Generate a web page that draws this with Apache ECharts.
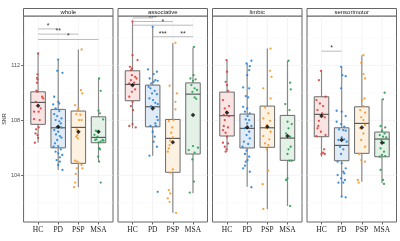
<!DOCTYPE html>
<html><head><meta charset="utf-8">
<script src="https://cdn.jsdelivr.net/npm/echarts@6/dist/echarts.min.js"></script>
<style>html,body{margin:0;padding:0;background:#fff}#c{width:400px;height:241px}</style>
</head><body><div id="c"></div>
<script>
const groups = ['HC', 'PD', 'PSP', 'MSA'];
const panels = ['whole', 'associative', 'limbic', 'sensorimotor'];
const yTicks = [104, 108, 112];
const gridMajor = [104, 108, 112];
const gridMinor = [102, 106, 110, 114];

// box stats: [lower whisker, Q1, median, Q3, upper whisker] per group
const whole_box = [[106.37,107.71,109.31,110.08,112.87],[104.39,106.0,107.46,108.8,112.44],[103.13,104.87,107.49,108.68,113.16],[104.99,106.37,106.76,108.26,111.05]];
const whole_mean = [109.06,107.53,107.17,107.17];
const assoc_box = [[107.42,109.43,110.62,111.61,115.2],[105.43,107.53,108.99,110.57,114.81],[101.28,104.22,106.69,108.07,113.64],[102.69,105.55,109.91,110.73,113.31]];
const assoc_mean = [110.55,108.87,106.4,108.39];
const limbic_box = [[105.72,106.86,108.34,110.06,112.39],[103.17,105.99,107.42,108.46,112.15],[101.55,106.04,107.46,109.04,113.24],[101.77,105.09,106.71,108.36,112.33]];
const limbic_mean = [108.55,107.5,107.53,106.86];
const sensor_box = [[105.35,106.81,108.44,109.72,111.61],[102.44,105.06,106.18,107.46,111.9],[103.53,105.6,107.78,108.99,112.75],[103.42,105.35,106.64,107.15,109.55]];
const sensor_mean = [108.31,106.57,107.49,106.37];

// significance brackets: [group a, group b, label, height]
const whole_sig = [[1,2,'*',114.66],[1,3,'**',114.28],[1,4,'*',113.89]];
const assoc_sig = [[1,2,'*',115.46],[1,3,'***',115.2],[1,4,'*',114.93],[2,3,'***',114.09],[3,4,'**',114.09]];
const limbic_sig = [];
const sensor_sig = [[1,2,'*',113.04]];

// individual points (SNR) and their horizontal jitter (category units)
const whole_HC = [112.87,111.35,111.10,110.98,110.74,110.16,110.08,109.72,109.60,109.35,108.87,108.63,108.63,108.09,108.02,107.49,107.35,107.05,106.93,106.73,106.37];
const whole_HC_jit = [0,-0.03,-0.05,-0.03,-0.05,-0.08,-0.03,0.2,0.25,-0.11,0.13,-0.2,0.03,-0.2,0.08,0.03,-0.1,-0.13,-0.03,0,-0.16];
const whole_PD = [112.43,111.61,111.46,109.72,109.35,109.23,109.16,108.87,108.68,108.46,108.31,108.14,108.02,107.93,107.78,107.49,107.49,107.29,107.17,106.98,106.86,106.74,106.57,106.33,106.13,106.08,105.89,105.72,105.60,105.48,105.31,105.11,104.99,104.75,104.39];
const whole_PD_jit = [0,-0.05,0.21,-0.2,0,0.05,-0.25,-0.13,0.05,-0.2,-0.05,0.16,-0.13,0.05,0.13,-0.08,0.16,-0.2,0,-0.11,0.08,0.16,-0.05,-0.16,0,-0.23,0.13,-0.13,0,0.2,0.08,-0.08,0.08,0,0.21];
const whole_PSP = [113.16,110.20,109.96,109.11,108.87,108.75,108.46,108.41,108.02,108.02,107.34,107.10,106.93,106.81,106.69,105.06,104.99,104.87,104.75,104.51,104.51,104.10,103.47,103.13];
const whole_PSP_jit = [0.16,0.13,0.2,-0.16,0,-0.03,-0.1,0.1,0.03,0.16,-0.08,0,-0.05,-0.1,-0.03,-0.16,-0.05,0.03,0.16,0.2,-0.08,-0.13,-0.16,-0.21];
const whole_MSA = [111.05,110.15,108.70,108.51,108.07,107.25,106.95,106.81,106.62,106.57,106.57,106.52,106.45,106.40,105.97,105.89,105.36,104.99,103.47];
const whole_MSA_jit = [0.03,0.11,0,0.07,0.23,-0.13,-0.2,-0.05,-0.1,-0.16,0.2,0.25,0.11,0,0.03,0.08,-0.02,0.03,0.11];

const assoc_HC = [115.2,112.75,112.39,111.90,111.78,111.66,111.29,111.17,111.05,110.93,110.74,110.69,110.25,110.08,109.72,109.35,109.04,108.75,107.73,107.59,107.49];
const assoc_HC_jit = [0,0,0.25,-0.13,-0.03,-0.08,-0.03,0.13,0.2,-0.08,0.08,-0.16,0.13,-0.03,-0.16,0,-0.08,0.03,0,-0.16,0.16];
const assoc_PD = [114.81,111.71,111.54,111.37,111.05,110.93,110.88,110.81,110.69,110.45,110.33,110.15,109.96,109.91,109.60,109.48,109.28,109.19,109.04,108.94,108.26,108.02,107.78,107.59,107.59,107.17,106.81,106.45,106.08,105.43,102.80];
const assoc_PD_jit = [0,-0.23,0.21,0.05,-0.15,0.13,0.25,0.05,-0.07,-0.2,-0.11,0.1,-0.03,0.21,-0.16,0.02,0.13,0.25,-0.07,0.05,0.21,0.25,0.13,-0.11,0.16,0,0.1,0.05,0.21,-0.16,0.25];
const assoc_PSP = [113.65,110.52,109.96,109.35,108.80,108.02,107.95,107.49,107.10,106.76,106.52,106.20,105.96,105.72,104.43,104.18,102.92,102.68,102.32,102.07,101.27];
const assoc_PSP_jit = [0.13,-0.16,0.2,0.13,0.13,0.03,-0.2,-0.03,-0.08,0,-0.13,-0.16,-0.2,-0.25,0,-0.13,-0.2,-0.13,-0.25,-0.16,0.16];
const assoc_MSA = [113.35,111.29,111.05,110.98,110.88,110.57,110.33,110.21,110.08,109.67,109.57,106.13,106.01,105.84,105.65,105.16,103.54,102.74];
const assoc_MSA_jit = [0.05,0.03,-0.13,0.13,0,-0.08,0.08,0.2,-0.03,0.08,0.16,0,0.25,-0.21,0.08,-0.03,0.05,-0.16];

const limbic_HC = [112.39,111.54,110.81,110.57,110.15,109.48,109.04,108.87,108.63,108.39,108.31,108.02,107.59,107.49,107.29,107.10,106.81,106.37,106.32,106.08,105.89,105.72];
const limbic_HC_jit = [-0.03,0,-0.07,0,0.05,-0.2,0.1,-0.11,-0.03,-0.16,0.1,-0.11,-0.16,0.05,-0.2,-0.07,0,-0.2,0.05,-0.11,-0.03,-0.07];
const limbic_PD = [112.34,112.14,111.95,111.66,111.29,110.40,110.33,109.77,109.67,108.99,108.87,108.63,108.51,108.31,108.07,108.02,107.78,107.59,107.42,107.17,106.93,106.69,106.45,106.28,106.08,105.79,105.55,105.36,105.11,104.99,104.70,104.51,104.26,103.13];
const limbic_PD_jit = [0.21,-0.03,0.13,0.1,0,-0.2,0.1,-0.07,0.05,-0.2,0,-0.11,0.13,0.02,-0.07,0.1,0,0.21,-0.11,0.1,-0.03,0.13,-0.16,0.05,-0.23,-0.03,-0.11,0.1,0.02,-0.07,-0.11,-0.2,0.13,0.21];
const limbic_PSP = [113.23,111.61,111.17,110.33,109.60,108.94,108.51,108.14,107.97,107.66,107.42,107.17,106.86,106.62,106.32,106.20,105.89,104.34,103.35,101.55];
const limbic_PSP_jit = [0.16,0.13,0.21,-0.2,0.16,-0.11,0.05,-0.2,0.13,-0.03,-0.07,0.16,-0.2,0.1,-0.11,0.05,-0.03,0.05,-0.23,-0.2];
const limbic_MSA = [112.34,110.74,110.25,109.19,108.75,107.90,107.73,107.42,107.05,106.81,106.08,105.89,105.55,105.06,105.06,103.78,103.66,101.77];
const limbic_MSA_jit = [0.05,0.13,0.16,-0.11,0.1,0,0.21,0.05,-0.07,0.13,0.16,0.05,0,0.1,0.21,0,-0.07,0.13];

const sensor_HC = [111.61,110.93,109.72,109.48,109.23,109.04,108.75,108.51,108.22,107.97,107.59,107.42,107.17,106.93,106.86,105.89,105.65,105.55,105.55];
const sensor_HC_jit = [-0.03,-0.13,0.2,-0.25,-0.08,0.08,-0.2,0.03,0.16,-0.13,-0.16,-0.2,-0.03,0.2,-0.25,0.13,0.08,0.16,0];
const sensor_PD = [111.90,111.29,111.22,110.33,108.70,108.63,108.31,107.90,107.73,107.54,107.34,107.29,107.25,106.76,106.62,106.57,106.45,106.08,105.89,105.55,104.99,104.87,104.51,104.26,104.14,104.02,103.78,103.66,103.46,103.46,102.45,102.40];
const sensor_PD_jit = [-0.03,0.03,0.2,-0.03,-0.25,0,0.2,-0.25,-0.03,0.13,-0.13,0.08,0.2,0,0.13,-0.16,0.25,-0.08,0.08,-0.03,-0.2,0,0.2,0.08,0.13,-0.2,-0.03,0.16,-0.16,0.08,0,0.2];
const sensor_PSP = [112.75,112.19,111.37,111.05,109.60,109.48,109.04,108.75,108.56,108.22,108.02,107.66,107.42,107.05,106.57,106.08,105.55,105.11,104.99,103.66,103.46];
const sensor_PSP_jit = [0.08,-0.03,0.08,0.16,0.13,0,0.08,-0.08,0.16,-0.03,0.08,0.16,-0.08,0.08,-0.03,0.16,-0.13,-0.03,0.16,-0.2,-0.16];
const sensor_MSA = [110.01,109.53,107.59,107.49,107.25,107.05,106.93,106.81,106.76,106.57,106.37,105.96,105.72,105.48,105.40,105.36,104.39,103.66,103.37];
const sensor_MSA_jit = [0.13,0.05,-0.07,0.16,0,0.13,-0.11,0.05,0.21,-0.03,0.1,-0.07,0.1,0,0.16,-0.11,-0.07,0.05,0.1];

const panelBoxes = [whole_box, assoc_box, limbic_box, sensor_box];
const panelMeans = [whole_mean, assoc_mean, limbic_mean, sensor_mean];
const panelSigs = [whole_sig, assoc_sig, limbic_sig, sensor_sig];
const panelPoints = [
  [[whole_HC, whole_HC_jit],[whole_PD, whole_PD_jit],[whole_PSP, whole_PSP_jit],[whole_MSA, whole_MSA_jit]],
  [[assoc_HC, assoc_HC_jit],[assoc_PD, assoc_PD_jit],[assoc_PSP, assoc_PSP_jit],[assoc_MSA, assoc_MSA_jit]],
  [[limbic_HC, limbic_HC_jit],[limbic_PD, limbic_PD_jit],[limbic_PSP, limbic_PSP_jit],[limbic_MSA, limbic_MSA_jit]],
  [[sensor_HC, sensor_HC_jit],[sensor_PD, sensor_PD_jit],[sensor_PSP, sensor_PSP_jit],[sensor_MSA, sensor_MSA_jit]]
];

const pointColors = ['#d8413a', '#2a84d8', '#f39a2e', '#2f9d57'];
const fillColors = ['#fae4e3', '#e0ebf6', '#fdf1e2', '#e3f1e7'];

const chart = echarts.init(document.getElementById('c'), null, {renderer: 'canvas'});
const L0 = 23.5, STEP = 94.5, W = 89.5, TOP = 16, H = 206;
const grids = [], xAxes = [], yAxes = [], series = [], graphics = [];

panels.forEach((name, i) => {
  const left = L0 + i * STEP;
  grids.push({left: left, top: TOP, width: W, height: H, show: true, borderColor: '#666', borderWidth: 1, backgroundColor: '#fff'});
  xAxes.push({
    type: 'value', gridIndex: i, min: 0.28, max: 4.72,
    axisLine: {show: false}, splitLine: {show: false},
    axisTick: {show: true, customValues: [1,2,3,4], length: 2.5, lineStyle: {color: '#444', width: 0.8}},
    axisLabel: {customValues: [1,2,3,4], formatter: v => groups[Math.round(v) - 1], fontFamily: 'Liberation Serif', fontSize: 7.5, color: '#222', margin: 4.5}
  });
  yAxes.push({
    type: 'value', gridIndex: i, min: 100.6, max: 115.6,
    axisLine: {show: false}, splitLine: {show: false},
    axisTick: {show: i === 0, customValues: yTicks, length: 2.5, lineStyle: {color: '#444', width: 0.8}},
    axisLabel: {show: i === 0, customValues: yTicks, fontSize: 5.5, color: '#4d4d4d', margin: 3.5, fontFamily: 'Liberation Sans'},
    name: i === 0 ? 'SNR' : '', nameLocation: 'middle', nameRotate: 90, nameGap: 14,
    nameTextStyle: {fontSize: 5.5, color: '#333', fontFamily: 'Liberation Sans'}
  });
  // strip
  graphics.push({type: 'rect', shape: {x: left, y: 8.5, width: W, height: 7.5}, style: {fill: '#fff', stroke: '#666', lineWidth: 1}, z: 10});
  graphics.push({type: 'text', x: left + W / 2, y: 12.5, style: {text: name, fontSize: 6, fill: '#1a1a1a', textAlign: 'center', textVerticalAlign: 'middle', fontFamily: 'Liberation Sans'}, z: 11});

  // background grid lines
  const hData = gridMajor.map(v => [1, v, 0]).concat(gridMinor.map(v => [1, v, 1]));
  series.push({
    type: 'custom', xAxisIndex: i, yAxisIndex: i, silent: true, z: 0,
    data: hData,
    renderItem: (params, api) => {
      const cs = params.coordSys;
      const p = api.coord([1, api.value(1)]);
      const minor = api.value(2) === 1;
      return {type: 'line', shape: {x1: cs.x, y1: p[1], x2: cs.x + cs.width, y2: p[1]}, style: {stroke: minor ? '#f6f6f6' : '#efefef', lineWidth: minor ? 0.5 : 0.7}};
    }
  });
  series.push({
    type: 'custom', xAxisIndex: i, yAxisIndex: i, silent: true, z: 0,
    data: [1,2,3,4].map(g => [g, 108]),
    renderItem: (params, api) => {
      const cs = params.coordSys;
      const p = api.coord([api.value(0), 108]);
      return {type: 'line', shape: {x1: p[0], y1: cs.y, x2: p[0], y2: cs.y + cs.height}, style: {stroke: '#efefef', lineWidth: 0.7}};
    }
  });

  // boxes
  series.push({
    type: 'custom', xAxisIndex: i, yAxisIndex: i, silent: true, z: 2,
    data: panelBoxes[i].map((b, g) => [g + 1].concat(b)),
    encode: {x: 0, y: [1,2,3,4,5]},
    renderItem: (params, api) => {
      const x = api.value(0);
      const g = Math.round(x) - 1;
      const lo = api.coord([x, api.value(1)]);
      const q1 = api.coord([x, api.value(2)]);
      const md = api.coord([x, api.value(3)]);
      const q3 = api.coord([x, api.value(4)]);
      const hi = api.coord([x, api.value(5)]);
      const hw = api.size([0.72, 0])[0] / 2;
      return {type: 'group', children: [
        {type: 'line', shape: {x1: lo[0], y1: lo[1], x2: q1[0], y2: q1[1]}, style: {stroke: '#8a8a8a', lineWidth: 1.2}},
        {type: 'line', shape: {x1: q3[0], y1: q3[1], x2: hi[0], y2: hi[1]}, style: {stroke: '#8a8a8a', lineWidth: 1.2}},
        {type: 'rect', shape: {x: q3[0] - hw, y: q3[1], width: hw * 2, height: q1[1] - q3[1]}, style: {fill: fillColors[g], stroke: '#6a6a6a', lineWidth: 1}},
        {type: 'line', shape: {x1: md[0] - hw, y1: md[1], x2: md[0] + hw, y2: md[1]}, style: {stroke: '#4f4f4f', lineWidth: 1.1}}
      ]};
    }
  });

  // points
  panelPoints[i].forEach((pair, g) => {
    const vals = pair[0], jit = pair[1];
    series.push({
      type: 'scatter', xAxisIndex: i, yAxisIndex: i, z: 3, silent: true,
      symbolSize: 2.3,
      itemStyle: {color: pointColors[g], opacity: 0.9},
      data: vals.map((v, k) => [g + 1 + jit[k], v])
    });
  });

  // means
  series.push({
    type: 'scatter', xAxisIndex: i, yAxisIndex: i, z: 4, silent: true,
    symbol: 'diamond', symbolSize: 4.5,
    itemStyle: {color: '#000'},
    data: panelMeans[i].map((m, g) => [g + 1, m])
  });

  // significance brackets
  const sig = panelSigs[i];
  series.push({
    type: 'custom', xAxisIndex: i, yAxisIndex: i, silent: true, z: 5,
    data: sig.map(s => [s[0], s[3], s[1]]),
    renderItem: (params, api) => {
      const s = sig[params.dataIndex];
      const a = api.coord([s[0], s[3]]);
      const b = api.coord([s[1], s[3]]);
      return {type: 'group', children: [
        {type: 'line', shape: {x1: a[0], y1: a[1], x2: b[0], y2: b[1]}, style: {stroke: '#aaa', lineWidth: 0.8}},
        {type: 'text', x: (a[0] + b[0]) / 2, y: a[1] + 0.5, style: {text: s[2], fontSize: 7, fill: '#333', textAlign: 'center', textVerticalAlign: 'bottom', fontFamily: 'Liberation Sans'}}
      ]};
    }
  });
});

chart.setOption({
  animation: false,
  backgroundColor: '#fff',
  grid: grids,
  xAxis: xAxes,
  yAxis: yAxes,
  series: series,
  graphic: graphics
});
</script>
</body></html>
